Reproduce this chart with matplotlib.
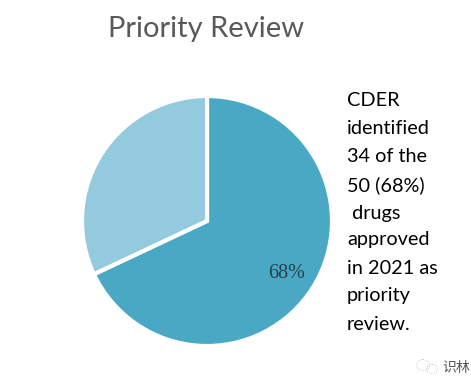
#!/usr/bin/env python3
import matplotlib
matplotlib.use('Agg')
import matplotlib.pyplot as plt
from matplotlib.patches import Ellipse

W, H = 471, 392

title = 'Priority Review'
values = [68, 32]
slice_colors = ['#49a9c5', '#93cadd']
pct_label = '68%'
note_lines = ['CDER', 'identified', '34 of the', '50 (68%)', ' drugs', 'approved',
              'in 2021 as', 'priority', 'review.']
note_y = [101, 129, 157, 185, 213, 240, 268, 296, 324]
watermark = '识林'

plt.rcParams['font.family'] = ['Lato', 'DejaVu Sans']

fig = plt.figure(figsize=(W / 100, H / 100), dpi=100, facecolor='white')

# pie axes, pixel box
cx, cy, r = 207, 221, 125
ax = fig.add_axes([(cx - r) / W, 1 - (cy + r) / H, 2 * r / W, 2 * r / H])
ax.pie(values, colors=slice_colors, startangle=90, counterclock=False, radius=1,
       wedgeprops={'edgecolor': 'white', 'linewidth': 3})
ax.set_xlim(-1, 1)
ax.set_ylim(-1, 1)
ax.text(0.64, -0.42, pct_label, fontsize=14.5, family='Liberation Serif', color='#263f4c',
        ha='center', va='center')

fig.text(206.5 / W, 1 - 29 / H, title, fontsize=21, color='#595959', ha='center', va='center')

for line, y in zip(note_lines, note_y):
    fig.text(347 / W, 1 - y / H, line, fontsize=14.3, color='black', ha='left', va='center')

# watermark, faint logo bubbles then the name
over = fig.add_axes([0, 0, 1, 1], facecolor='none')
over.set_xlim(0, W)
over.set_ylim(H, 0)
over.axis('off')
over.add_patch(Ellipse((423, 365), 13, 11, fill=False, ec='#c4c4c4', lw=0.7, ls=':'))
over.add_patch(Ellipse((432, 369), 11, 9, fill=False, ec='#c4c4c4', lw=0.7, ls=':'))
fig.text(456 / W, 1 - 368 / H, watermark, fontsize=10, color='#555555', ha='center', va='center',
         family=['Noto Sans CJK SC', 'DejaVu Sans'])

fig.savefig('out.png', dpi=100)
